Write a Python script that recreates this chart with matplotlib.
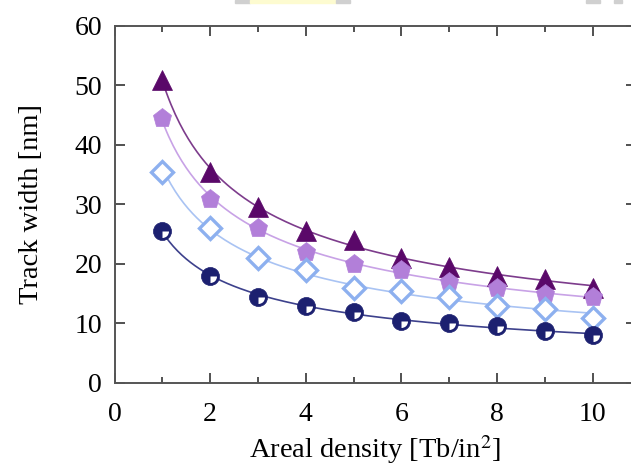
import numpy as np
import matplotlib
matplotlib.use("Agg")
import matplotlib.pyplot as plt
from matplotlib.path import Path
from matplotlib.patches import Rectangle

density = [1, 2, 3, 4, 5, 6, 7, 8, 9, 10]
tri_width = [51, 35.5, 29.5, 25.5, 24, 21, 19.5, 18, 17.5, 16]
pent_width = [44.5, 31, 26, 22, 20, 19, 17, 16, 15, 14.5]
diam_width = [35.5, 26, 21, 19, 16, 15.5, 14.5, 13, 12.5, 11]
circ_width = [25.5, 18, 14.5, 13, 12, 10.5, 10, 9.5, 8.7, 8]

plt.rcParams['font.family'] = ['Liberation Serif', 'DejaVu Serif']
plt.rcParams['mathtext.fontset'] = 'stix'

fig = plt.figure(figsize=(6.31, 4.69), dpi=100)
ax = fig.add_axes([0.1815, 0.1834, 0.826, 0.7612])

# little screenshot remnants along the top edge
for x0, x1, c in [(235, 250, '#d0d0d0'), (250, 336, '#fdfbd0'), (336, 350, '#d0d0d0'),
                  (586, 600, '#d0d0d0'), (614, 622, '#d0d0d0')]:
    fig.patches.append(Rectangle((x0 / 631, 1 - 3 / 469), (x1 - x0) / 631, 3 / 469,
                                 transform=fig.transFigure, color=c, zorder=0))

xs = np.linspace(1, 10, 200)
dens = np.array(density, dtype=float)


def power_fit(y):
    b, a = np.polyfit(np.log(dens), np.log(np.array(y)), 1)
    return np.exp(a) * xs ** b


quarter = Path.wedge(270, 360)

series = [
    (tri_width, '#5a0869', '#7d3c8c', '^', 14),
    (pent_width, '#b27fd9', '#c8a2e6', 'p', 14),
    (diam_width, '#8db0ef', '#a9c3f3', 'D', 11.5),
    (circ_width, '#1c2070', '#3d418c', 'o', 13),
]

for y, mc, lc, m, ms in series:
    ax.plot(xs, power_fit(y), color=lc, lw=1.2, zorder=2)
    if m == 'D':
        ax.plot(density, y, ls='none', marker='D', ms=ms, mfc='white', mec=mc, mew=2.4, zorder=3)
    else:
        ax.plot(density, y, ls='none', marker=m, ms=ms, mfc=mc, mec=mc, mew=0.5, zorder=3)
    if m == 'o':
        ax.plot(density, y, ls='none', marker=quarter, ms=ms * 0.72, mfc='white', mec='white',
                mew=0, zorder=4)

ax.set_xlim(0, 10.9)
ax.set_ylim(0, 60)
ax.set_xticks([0, 2, 4, 6, 8, 10])
ax.set_xticks([1, 3, 5, 7, 9], minor=True)
ax.set_yticks([0, 10, 20, 30, 40, 50, 60])
ax.tick_params(which='both', direction='in', top=True, right=True, labelsize=20,
               color='#333333', width=1.2)
ax.tick_params(which='major', length=7, pad=9)
ax.tick_params(axis='x', which='major', pad=14)
ax.tick_params(which='minor', length=4)
for s in ax.spines.values():
    s.set_color('#555555')
    s.set_linewidth(1.4)

ax.set_xlabel('Areal density [Tb/in$^2$]', fontsize=20.5, labelpad=4)
ax.set_ylabel('Track width [nm]', fontsize=20.5, labelpad=22)

fig.savefig('out.png', dpi=100)
